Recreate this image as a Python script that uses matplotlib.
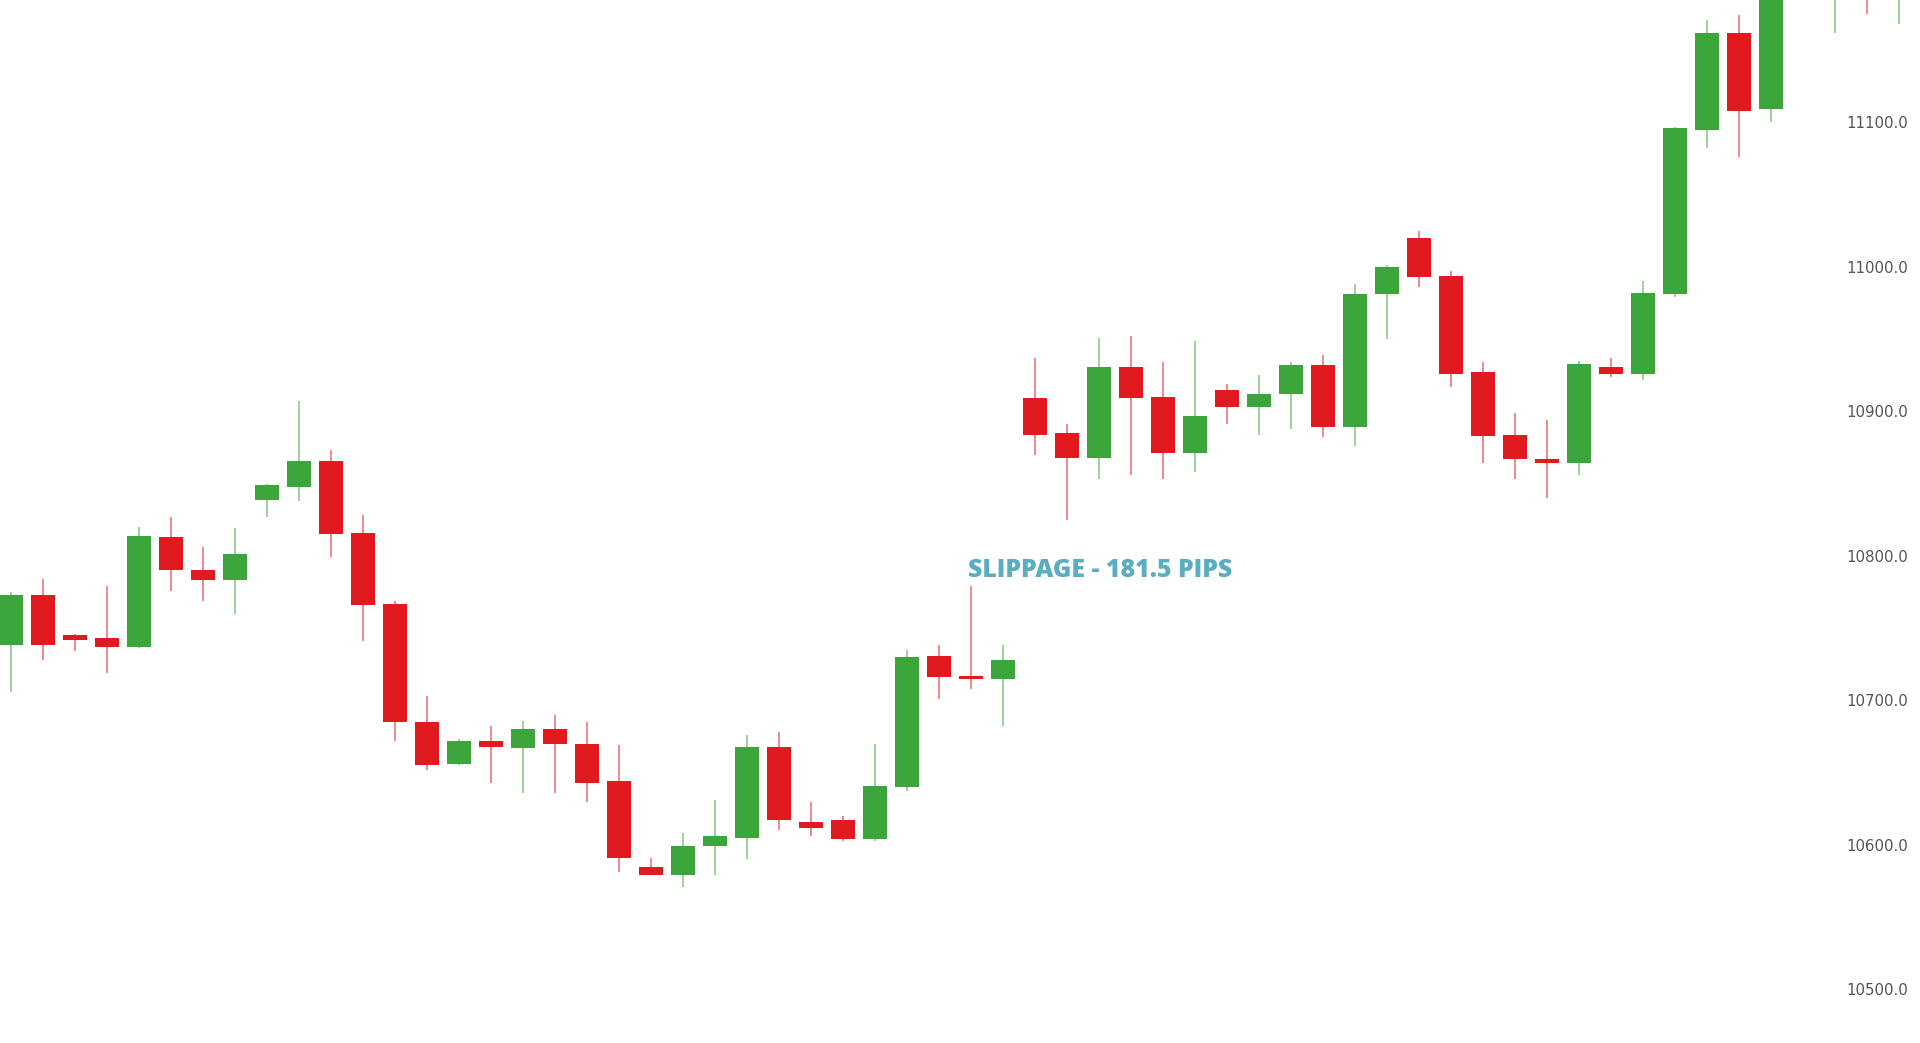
import matplotlib
matplotlib.use("Agg")
import matplotlib.pyplot as plt
import numpy as np

# ---- data ----
opens  = [10738, 10773, 10745, 10743, 10737, 10813, 10790, 10783, 10839, 10848,
          10866, 10816, 10767, 10685, 10656, 10672, 10667, 10680, 10670, 10644,
          10585, 10579, 10599, 10605, 10668, 10616, 10617, 10604, 10640, 10731,
          10717, 10715, 10909, 10885, 10868, 10931, 10910, 10871, 10915, 10903,
          10912, 10932, 10889, 10981, 11020, 10994, 10927, 10884, 10867, 10864,
          10931, 10926, 10981, 11095, 11162, 11109, 11222, 11200, 11240, 11195]
highs  = [10775, 10784, 10746, 10779, 10820, 10827, 10806, 10819, 10850, 10907,
          10873, 10828, 10769, 10703, 10673, 10682, 10686, 10690, 10685, 10669,
          10591, 10608, 10631, 10676, 10678, 10630, 10620, 10670, 10735, 10738,
          10779, 10738, 10937, 10891, 10951, 10952, 10934, 10949, 10919, 10925,
          10934, 10939, 10988, 11001, 11025, 10997, 10934, 10899, 10894, 10935,
          10937, 10990, 11097, 11171, 11174, 11235, 11260, 11280, 11270, 11250]
lows   = [10706, 10728, 10734, 10719, 10736, 10776, 10769, 10760, 10827, 10838,
          10799, 10741, 10672, 10652, 10655, 10643, 10636, 10636, 10630, 10581,
          10579, 10571, 10579, 10590, 10610, 10606, 10603, 10603, 10637, 10701,
          10708, 10682, 10870, 10825, 10853, 10856, 10853, 10858, 10891, 10884,
          10888, 10882, 10876, 10950, 10986, 10917, 10864, 10853, 10840, 10856,
          10924, 10922, 10979, 11082, 11076, 11100, 11192, 11162, 11175, 11168]
closes = [10773, 10738, 10742, 10737, 10814, 10790, 10783, 10801, 10849, 10866,
          10815, 10766, 10685, 10655, 10672, 10668, 10680, 10670, 10643, 10591,
          10579, 10599, 10606, 10668, 10617, 10612, 10604, 10641, 10730, 10716,
          10715, 10728, 10884, 10868, 10931, 10909, 10871, 10897, 10903, 10912,
          10932, 10889, 10981, 11000, 10993, 10926, 10883, 10867, 10864, 10933,
          10926, 10982, 11096, 11162, 11108, 11220, 11250, 11265, 11205, 11230]
ytick_values = [10500, 10600, 10700, 10800, 10900, 11000, 11100]
ytick_labels = ["10500.0", "10600.0", "10700.0", "10800.0", "10900.0", "11000.0", "11100.0"]
annotation = "SLIPPAGE - 181.5 PIPS"

GREEN = "#3ca63c"
RED = "#e01a1f"
TEXT_COLOR = "#5aaec0"

o = np.array(opens, float)
h = np.array(highs, float)
l = np.array(lows, float)
c = np.array(closes, float)
x = np.arange(len(o))
up = c >= o
cols = np.where(up, GREEN, RED)

fig = plt.figure(figsize=(19.2, 10.43), dpi=100)
ax = fig.add_axes([0, 0, 1, 1])

ax.vlines(x, l, h, colors=cols, linewidth=1.2, alpha=0.6, zorder=2)
bottom = np.minimum(o, c)
height = np.maximum(np.abs(c - o), 1.5)
ax.bar(x, height, bottom=bottom, width=0.74, color=cols, zorder=3, linewidth=0)

ax.set_xlim(-0.344, 59.66)
ax.set_ylim(10462.9, 11184.7)

ax.yaxis.tick_right()
ax.set_yticks(ytick_values)
ax.set_yticklabels(ytick_labels)
ax.tick_params(axis="y", length=0, pad=-8.6, labelsize=10.8, labelcolor="#555555")
for lab in ax.get_yticklabels():
    lab.set_horizontalalignment("right")
    lab.set_fontfamily(["DejaVu Sans"])
ax.set_xticks([])
for s in ax.spines.values():
    s.set_visible(False)

ax.text(29.9, 10790, annotation, ha="left", va="center", fontsize=17.9,
        fontweight="heavy", color=TEXT_COLOR, family=["Open Sans", "DejaVu Sans"], zorder=4)

fig.savefig("out.png", dpi=100, facecolor="white")
